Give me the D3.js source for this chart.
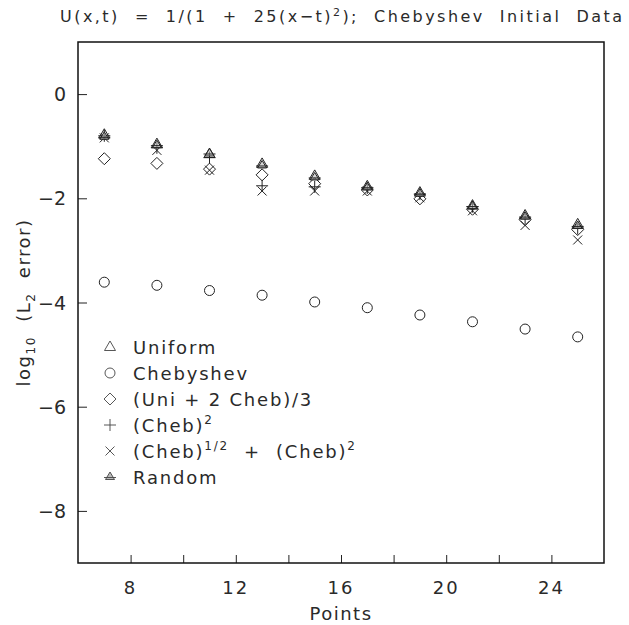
<!DOCTYPE html>
<html>
<head>
<meta charset="utf-8">
<script src="https://cdn.jsdelivr.net/npm/d3@7"></script>
<style>
  body { margin: 0; background: #fff; }
  svg text { font-family: "DejaVu Sans", sans-serif; fill: #2a2a2a; }
</style>
</head>
<body>
<svg id="chart"></svg>
<script>
const width = 629;
const height = 625;

// values (log10 of L2 error)
const points    = [7, 9, 11, 13, 15, 17, 19, 21, 23, 25];
const uniform   = [-0.78, -0.96, -1.15, -1.34, -1.57, -1.77, -1.89, -2.14, -2.33, -2.50];
const chebyshev = [-3.61, -3.67, -3.77, -3.86, -3.99, -4.10, -4.24, -4.37, -4.51, -4.66];
const uniCheb   = [-1.24, -1.33, -1.44, -1.55, -1.72, -1.84, -2.01, -2.21, -2.41, -2.60];
const chebSq    = [-0.80, -1.03, -1.22, -1.76, -1.78, -1.80, -1.92, -2.16, -2.38, -2.58];
const chebMix   = [-0.84, -1.08, -1.46, -1.86, -1.86, -1.86, -1.99, -2.24, -2.52, -2.80];
const random    = [-0.82, -0.98, -1.14, -1.37, -1.60, -1.79, -1.91, -2.15, -2.35, -2.53];

const xTicks = [8, 10, 12, 14, 16, 18, 20, 22, 24];
const xLabels = [8, 12, 16, 20, 24];
const yTicks = [0, -2, -4, -6, -8];

const x = d3.scaleLinear().domain([6, 26]).range([78, 604]);
const y = d3.scaleLinear().domain([-9, 1]).range([563, 42]);

// marker paths, centred on 0,0
const marks = {
    triangle: () => "M0,-6L5.5,3.5L-5.5,3.5Z",
    circle: () => d3.arc()({innerRadius: 0, outerRadius: 5, startAngle: 0, endAngle: 2 * Math.PI}),
    diamond: () => "M0,-6L6,0L0,6L-6,0Z",
    plus: () => "M-6,0L6,0M0,-6L0,6",
    times: () => "M-4.5,-4.5L4.5,4.5M-4.5,4.5L4.5,-4.5",
    random: () => "M0,-5L4.5,2.5L-4.5,2.5ZM-6,0.5L6,0.5"
};

const series = [
    {name: "Uniform", values: uniform, mark: "triangle"},
    {name: "Chebyshev", values: chebyshev, mark: "circle"},
    {name: "(Uni + 2 Cheb)/3", values: uniCheb, mark: "diamond"},
    {name: "(Cheb)", values: chebSq, mark: "plus"},
    {name: "(Cheb)", values: chebMix, mark: "times"},
    {name: "Random", values: random, mark: "random"}
];

const svg = d3.select("#chart")
    .attr("width", width)
    .attr("height", height);

// title, centred over the plot frame
svg.append("text")
    .attr("x", (x(6) + x(26)) / 2)
    .attr("y", 22)
    .attr("text-anchor", "middle")
    .style("font-size", "16px")
    .style("white-space", "pre")
    .attr("textLength", 562)
    .attr("lengthAdjust", "spacing")
    .call(t => {
        t.append("tspan").text("U(x,t)  =  1/(1  +  25(x\u2212t)");
        t.append("tspan").attr("dy", -6).style("font-size", "11px").text("2");
        t.append("tspan").attr("dy", 6).text(");  Chebyshev  Initial  Data");
    });

// axes with inward ticks
svg.append("g")
    .attr("transform", `translate(0,${y(-9)})`)
    .call(d3.axisBottom(x).tickValues(xTicks).tickSize(-8).tickFormat(""))
    .call(g => g.select(".domain").remove());

svg.append("g")
    .attr("transform", `translate(${x(6)},0)`)
    .call(d3.axisLeft(y).tickValues(yTicks).tickSize(-9).tickFormat(""))
    .call(g => g.select(".domain").remove());

svg.selectAll("line").attr("stroke", "#222");

svg.append("rect")
    .attr("x", x(6))
    .attr("y", y(1))
    .attr("width", x(26) - x(6))
    .attr("height", y(-9) - y(1))
    .attr("fill", "none")
    .attr("stroke", "#111")
    .attr("stroke-width", 1.5);

svg.selectAll(".xlab")
    .data(xLabels)
    .enter().append("text")
    .attr("class", "xlab")
    .attr("x", d => x(d))
    .attr("y", 594)
    .attr("text-anchor", "middle")
    .style("font-size", "18px")
    .style("letter-spacing", "2px")
    .text(d => d);

svg.selectAll(".ylab")
    .data(yTicks)
    .enter().append("text")
    .attr("class", "ylab")
    .attr("x", 66)
    .attr("y", d => y(d) + 7)
    .attr("text-anchor", "end")
    .style("font-size", "19px")
    .text(d => d === 0 ? "0" : "\u2212" + Math.abs(d));

svg.append("text")
    .attr("x", x(16))
    .attr("y", 620)
    .attr("text-anchor", "middle")
    .style("font-size", "18px")
    .style("letter-spacing", "1.5px")
    .text("Points");

svg.append("text")
    .attr("transform", `translate(30,${(y(1) + y(-9)) / 2}) rotate(-90)`)
    .attr("text-anchor", "middle")
    .style("font-size", "18px")
    .style("letter-spacing", "1.5px")
    .style("white-space", "pre")
    .call(t => {
        t.append("tspan").text("log");
        t.append("tspan").attr("dy", 5).style("font-size", "12px").text("10");
        t.append("tspan").attr("dy", -5).text("  (L");
        t.append("tspan").attr("dy", 5).style("font-size", "12px").text("2");
        t.append("tspan").attr("dy", -5).text("  error)");
    });

// markers
const plot = svg.append("g");
series.forEach(s => {
    plot.selectAll(null)
        .data(points.map((p, i) => [p, s.values[i]]))
        .enter().append("path")
        .attr("transform", d => `translate(${x(d[0])},${y(d[1])})`)
        .attr("d", marks[s.mark]())
        .attr("fill", s.mark === "random" ? "#bbb" : "none")
        .attr("fill-opacity", 0.6)
        .attr("stroke", "#222")
        .attr("stroke-width", 1);
});

// legend
const legend = svg.append("g");
series.forEach((s, i) => {
    const ly = 347 + i * 26;
    legend.append("path")
        .attr("transform", `translate(110,${ly})`)
        .attr("d", marks[s.mark]())
        .attr("fill", s.mark === "random" ? "#bbb" : "none")
        .attr("stroke", "#444")
        .attr("stroke-width", 0.9);
    const t = legend.append("text")
        .attr("x", 133)
        .attr("y", ly + 7)
        .style("font-size", "18px")
        .style("letter-spacing", "1.8px")
        .style("white-space", "pre")
        .text(s.name);
    if (s.mark === "plus") {
        t.append("tspan").attr("dy", -8).style("font-size", "12px").text("2");
    }
    if (s.mark === "times") {
        t.append("tspan").attr("dy", -8).style("font-size", "12px").text("1/2");
        t.append("tspan").attr("dy", 8).text("  +  (Cheb)");
        t.append("tspan").attr("dy", -8).style("font-size", "12px").text("2");
    }
});
</script>
</body>
</html>
